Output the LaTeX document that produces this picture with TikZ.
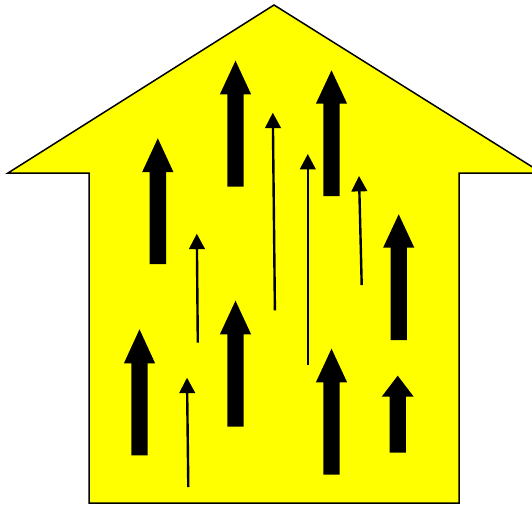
\documentclass[tikz,border=0pt]{standalone}
\usetikzlibrary{arrows.meta}
\definecolor{houseyellow}{RGB}{255,255,0}
\tikzset{
  house/.style={fill=houseyellow, draw=black, line width=1.5pt, line join=miter},
  blockarrow/.style={fill=black, draw=none},
  thinarrow/.style={draw=black, line width=2.4pt,
    -{Triangle[width=15.6pt,length=15.4pt]}}
}
% \blockup{x}{tip y}{head base y}{bottom y}{head half width}
\newcommand\blockup[5]{%
  \fill[blockarrow] (#1,#2) -- (#1+#5,#3) -- (#1+8.2,#3) -- (#1+8.2,#4)
    -- (#1-8.2,#4) -- (#1-8.2,#3) -- (#1-#5,#3) -- cycle;}
\begin{document}
\begin{tikzpicture}[x=1pt,y=-1pt]
  \useasboundingbox (0,0) rectangle (532,505);
  \clip (0,0) rectangle (532,505);
  % house outline
  \draw[house] (274,5) -- (542,173) -- (459,173) -- (459,503)
    -- (89,503) -- (89,173) -- (8,173) -- cycle;
  % thick arrows
  \blockup{235.5}{60.7}{94.3}{186.7}{15.6}
  \blockup{331.5}{70.3}{103.7}{196}{15.6}
  \blockup{157.8}{138.3}{172}{264}{15.6}
  \blockup{398.7}{214.3}{247.7}{340}{15.6}
  \blockup{139.5}{329.3}{363.3}{455.3}{15.6}
  \blockup{235.5}{300.7}{334.3}{426.7}{15.6}
  \blockup{331.5}{348.7}{382.3}{474.7}{15.6}
  \blockup{397.7}{375.7}{396.7}{452.7}{16}
  % thin arrows
  \coordinate (t1s) at (274.9,310.3); \coordinate (t1e) at (272.8,112.7);
  \coordinate (t2s) at (307.8,365);   \coordinate (t2e) at (307.8,154);
  \coordinate (t3s) at (361.7,285);   \coordinate (t3e) at (359,176);
  \coordinate (t4s) at (197.8,342.7); \coordinate (t4e) at (196.8,233.7);
  \coordinate (t5s) at (188.3,487);   \coordinate (t5e) at (187,377.7);
  \draw[thinarrow] (t1s) -- (t1e);
  \draw[thinarrow] (t2s) -- (t2e);
  \draw[thinarrow] (t3s) -- (t3e);
  \draw[thinarrow] (t4s) -- (t4e);
  \draw[thinarrow] (t5s) -- (t5e);
\end{tikzpicture}
\end{document}
